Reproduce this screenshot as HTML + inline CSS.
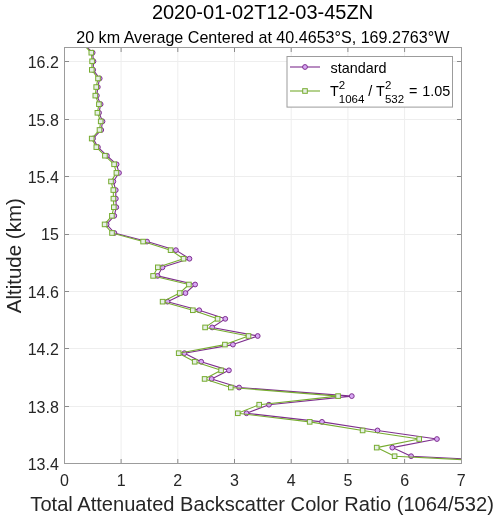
<!DOCTYPE html>
<html><head><meta charset="utf-8"><style>
html,body{margin:0;padding:0;background:#fff;width:500px;height:522px;overflow:hidden;}
svg{display:block;will-change:transform;}
text{white-space:pre;}
</style></head><body>
<svg width="500" height="522" viewBox="0 0 500 522"><defs><clipPath id="c"><rect x="64" y="47" width="398" height="417"/></clipPath></defs><rect x="0" y="0" width="500" height="522" fill="#fff"/><g stroke="#eeeeee" stroke-width="1"><line x1="121.10" y1="47" x2="121.10" y2="463" /><line x1="177.80" y1="47" x2="177.80" y2="463" /><line x1="234.50" y1="47" x2="234.50" y2="463" /><line x1="291.20" y1="47" x2="291.20" y2="463" /><line x1="347.90" y1="47" x2="347.90" y2="463" /><line x1="404.60" y1="47" x2="404.60" y2="463" /><line x1="64" y1="406.50" x2="461" y2="406.50" /><line x1="64" y1="348.50" x2="461" y2="348.50" /><line x1="64" y1="291.50" x2="461" y2="291.50" /><line x1="64" y1="234.50" x2="461" y2="234.50" /><line x1="64" y1="176.50" x2="461" y2="176.50" /><line x1="64" y1="119.50" x2="461" y2="119.50" /><line x1="64" y1="61.50" x2="461" y2="61.50" /></g><g stroke="#8a8a8a" stroke-width="1"><line x1="121.10" y1="463" x2="121.10" y2="459" /><line x1="121.10" y1="48" x2="121.10" y2="52" /><line x1="177.80" y1="463" x2="177.80" y2="459" /><line x1="177.80" y1="48" x2="177.80" y2="52" /><line x1="234.50" y1="463" x2="234.50" y2="459" /><line x1="234.50" y1="48" x2="234.50" y2="52" /><line x1="291.20" y1="463" x2="291.20" y2="459" /><line x1="291.20" y1="48" x2="291.20" y2="52" /><line x1="347.90" y1="463" x2="347.90" y2="459" /><line x1="347.90" y1="48" x2="347.90" y2="52" /><line x1="404.60" y1="463" x2="404.60" y2="459" /><line x1="404.60" y1="48" x2="404.60" y2="52" /><line x1="65" y1="406.50" x2="69" y2="406.50" /><line x1="461" y1="406.50" x2="457" y2="406.50" /><line x1="65" y1="348.50" x2="69" y2="348.50" /><line x1="461" y1="348.50" x2="457" y2="348.50" /><line x1="65" y1="291.50" x2="69" y2="291.50" /><line x1="461" y1="291.50" x2="457" y2="291.50" /><line x1="65" y1="234.50" x2="69" y2="234.50" /><line x1="461" y1="234.50" x2="457" y2="234.50" /><line x1="65" y1="176.50" x2="69" y2="176.50" /><line x1="461" y1="176.50" x2="457" y2="176.50" /><line x1="65" y1="119.50" x2="69" y2="119.50" /><line x1="461" y1="119.50" x2="457" y2="119.50" /><line x1="65" y1="61.50" x2="69" y2="61.50" /><line x1="461" y1="61.50" x2="457" y2="61.50" /></g><g clip-path="url(#c)"><polyline points="83.94,44.12 92.65,52.70 93.49,61.29 93.17,69.87 99.69,78.46 97.80,87.04 96.85,95.62 100.63,104.21 99.06,112.80 102.52,121.38 101.26,129.97 93.07,138.55 97.90,147.13 106.93,155.72 116.59,164.31 119.01,172.89 113.34,181.48 115.75,190.06 115.86,198.65 116.28,207.23 114.28,215.81 106.61,224.40 114.39,232.99 147.04,241.57 175.91,250.16 189.46,258.74 162.48,267.33 157.54,275.91 195.13,284.50 185.47,293.08 167.51,301.67 199.23,310.25 225.27,318.84 212.14,327.42 257.71,336.00 232.93,344.59 184.42,353.18 201.22,361.76 228.94,370.35 211.62,378.93 239.12,387.52 351.79,396.10 268.94,404.69 246.48,413.27 321.97,421.86 377.52,430.44 436.94,439.03 392.32,447.61 411.12,456.20 586.67,464.78" fill="none" stroke="#7E2F8E" stroke-width="1.1" stroke-linejoin="round"/><circle cx="92.65" cy="52.70" r="2.4" fill="#d8a8f5" stroke="#7E2F8E" stroke-width="1"/><circle cx="93.49" cy="61.29" r="2.4" fill="#d8a8f5" stroke="#7E2F8E" stroke-width="1"/><circle cx="93.17" cy="69.87" r="2.4" fill="#d8a8f5" stroke="#7E2F8E" stroke-width="1"/><circle cx="99.69" cy="78.46" r="2.4" fill="#d8a8f5" stroke="#7E2F8E" stroke-width="1"/><circle cx="97.80" cy="87.04" r="2.4" fill="#d8a8f5" stroke="#7E2F8E" stroke-width="1"/><circle cx="96.85" cy="95.62" r="2.4" fill="#d8a8f5" stroke="#7E2F8E" stroke-width="1"/><circle cx="100.63" cy="104.21" r="2.4" fill="#d8a8f5" stroke="#7E2F8E" stroke-width="1"/><circle cx="99.06" cy="112.80" r="2.4" fill="#d8a8f5" stroke="#7E2F8E" stroke-width="1"/><circle cx="102.52" cy="121.38" r="2.4" fill="#d8a8f5" stroke="#7E2F8E" stroke-width="1"/><circle cx="101.26" cy="129.97" r="2.4" fill="#d8a8f5" stroke="#7E2F8E" stroke-width="1"/><circle cx="93.07" cy="138.55" r="2.4" fill="#d8a8f5" stroke="#7E2F8E" stroke-width="1"/><circle cx="97.90" cy="147.13" r="2.4" fill="#d8a8f5" stroke="#7E2F8E" stroke-width="1"/><circle cx="106.93" cy="155.72" r="2.4" fill="#d8a8f5" stroke="#7E2F8E" stroke-width="1"/><circle cx="116.59" cy="164.31" r="2.4" fill="#d8a8f5" stroke="#7E2F8E" stroke-width="1"/><circle cx="119.01" cy="172.89" r="2.4" fill="#d8a8f5" stroke="#7E2F8E" stroke-width="1"/><circle cx="113.34" cy="181.48" r="2.4" fill="#d8a8f5" stroke="#7E2F8E" stroke-width="1"/><circle cx="115.75" cy="190.06" r="2.4" fill="#d8a8f5" stroke="#7E2F8E" stroke-width="1"/><circle cx="115.86" cy="198.65" r="2.4" fill="#d8a8f5" stroke="#7E2F8E" stroke-width="1"/><circle cx="116.28" cy="207.23" r="2.4" fill="#d8a8f5" stroke="#7E2F8E" stroke-width="1"/><circle cx="114.28" cy="215.81" r="2.4" fill="#d8a8f5" stroke="#7E2F8E" stroke-width="1"/><circle cx="106.61" cy="224.40" r="2.4" fill="#d8a8f5" stroke="#7E2F8E" stroke-width="1"/><circle cx="114.39" cy="232.99" r="2.4" fill="#d8a8f5" stroke="#7E2F8E" stroke-width="1"/><circle cx="147.04" cy="241.57" r="2.4" fill="#d8a8f5" stroke="#7E2F8E" stroke-width="1"/><circle cx="175.91" cy="250.16" r="2.4" fill="#d8a8f5" stroke="#7E2F8E" stroke-width="1"/><circle cx="189.46" cy="258.74" r="2.4" fill="#d8a8f5" stroke="#7E2F8E" stroke-width="1"/><circle cx="162.48" cy="267.33" r="2.4" fill="#d8a8f5" stroke="#7E2F8E" stroke-width="1"/><circle cx="157.54" cy="275.91" r="2.4" fill="#d8a8f5" stroke="#7E2F8E" stroke-width="1"/><circle cx="195.13" cy="284.50" r="2.4" fill="#d8a8f5" stroke="#7E2F8E" stroke-width="1"/><circle cx="185.47" cy="293.08" r="2.4" fill="#d8a8f5" stroke="#7E2F8E" stroke-width="1"/><circle cx="167.51" cy="301.67" r="2.4" fill="#d8a8f5" stroke="#7E2F8E" stroke-width="1"/><circle cx="199.23" cy="310.25" r="2.4" fill="#d8a8f5" stroke="#7E2F8E" stroke-width="1"/><circle cx="225.27" cy="318.84" r="2.4" fill="#d8a8f5" stroke="#7E2F8E" stroke-width="1"/><circle cx="212.14" cy="327.42" r="2.4" fill="#d8a8f5" stroke="#7E2F8E" stroke-width="1"/><circle cx="257.71" cy="336.00" r="2.4" fill="#d8a8f5" stroke="#7E2F8E" stroke-width="1"/><circle cx="232.93" cy="344.59" r="2.4" fill="#d8a8f5" stroke="#7E2F8E" stroke-width="1"/><circle cx="184.42" cy="353.18" r="2.4" fill="#d8a8f5" stroke="#7E2F8E" stroke-width="1"/><circle cx="201.22" cy="361.76" r="2.4" fill="#d8a8f5" stroke="#7E2F8E" stroke-width="1"/><circle cx="228.94" cy="370.35" r="2.4" fill="#d8a8f5" stroke="#7E2F8E" stroke-width="1"/><circle cx="211.62" cy="378.93" r="2.4" fill="#d8a8f5" stroke="#7E2F8E" stroke-width="1"/><circle cx="239.12" cy="387.52" r="2.4" fill="#d8a8f5" stroke="#7E2F8E" stroke-width="1"/><circle cx="351.79" cy="396.10" r="2.4" fill="#d8a8f5" stroke="#7E2F8E" stroke-width="1"/><circle cx="268.94" cy="404.69" r="2.4" fill="#d8a8f5" stroke="#7E2F8E" stroke-width="1"/><circle cx="246.48" cy="413.27" r="2.4" fill="#d8a8f5" stroke="#7E2F8E" stroke-width="1"/><circle cx="321.97" cy="421.86" r="2.4" fill="#d8a8f5" stroke="#7E2F8E" stroke-width="1"/><circle cx="377.52" cy="430.44" r="2.4" fill="#d8a8f5" stroke="#7E2F8E" stroke-width="1"/><circle cx="436.94" cy="439.03" r="2.4" fill="#d8a8f5" stroke="#7E2F8E" stroke-width="1"/><circle cx="392.32" cy="447.61" r="2.4" fill="#d8a8f5" stroke="#7E2F8E" stroke-width="1"/><circle cx="411.12" cy="456.20" r="2.4" fill="#d8a8f5" stroke="#7E2F8E" stroke-width="1"/><polyline points="83.00,44.12 91.30,52.70 92.10,61.29 91.80,69.87 98.00,78.46 96.20,87.04 95.30,95.62 98.90,104.21 97.40,112.80 100.70,121.38 99.50,129.97 91.70,138.55 96.30,147.13 104.90,155.72 114.10,164.31 116.40,172.89 111.00,181.48 113.30,190.06 113.40,198.65 113.80,207.23 111.90,215.81 104.60,224.40 112.00,232.99 143.10,241.57 170.60,250.16 183.50,258.74 157.80,267.33 153.10,275.91 188.90,284.50 179.70,293.08 162.60,301.67 192.80,310.25 217.60,318.84 205.10,327.42 248.50,336.00 224.90,344.59 178.70,353.18 194.70,361.76 221.10,370.35 204.60,378.93 230.80,387.52 338.10,396.10 259.20,404.69 237.80,413.27 309.70,421.86 362.60,430.44 419.20,439.03 376.70,447.61 394.60,456.20 561.80,464.78" fill="none" stroke="#77AC30" stroke-width="1.1" stroke-linejoin="round"/><rect x="89.00" y="50.40" width="4.6" height="4.6" fill="#e6efe6" stroke="#77AC30" stroke-width="1"/><rect x="89.80" y="58.99" width="4.6" height="4.6" fill="#e6efe6" stroke="#77AC30" stroke-width="1"/><rect x="89.50" y="67.57" width="4.6" height="4.6" fill="#e6efe6" stroke="#77AC30" stroke-width="1"/><rect x="95.70" y="76.16" width="4.6" height="4.6" fill="#e6efe6" stroke="#77AC30" stroke-width="1"/><rect x="93.90" y="84.74" width="4.6" height="4.6" fill="#e6efe6" stroke="#77AC30" stroke-width="1"/><rect x="93.00" y="93.33" width="4.6" height="4.6" fill="#e6efe6" stroke="#77AC30" stroke-width="1"/><rect x="96.60" y="101.91" width="4.6" height="4.6" fill="#e6efe6" stroke="#77AC30" stroke-width="1"/><rect x="95.10" y="110.50" width="4.6" height="4.6" fill="#e6efe6" stroke="#77AC30" stroke-width="1"/><rect x="98.40" y="119.08" width="4.6" height="4.6" fill="#e6efe6" stroke="#77AC30" stroke-width="1"/><rect x="97.20" y="127.67" width="4.6" height="4.6" fill="#e6efe6" stroke="#77AC30" stroke-width="1"/><rect x="89.40" y="136.25" width="4.6" height="4.6" fill="#e6efe6" stroke="#77AC30" stroke-width="1"/><rect x="94.00" y="144.83" width="4.6" height="4.6" fill="#e6efe6" stroke="#77AC30" stroke-width="1"/><rect x="102.60" y="153.42" width="4.6" height="4.6" fill="#e6efe6" stroke="#77AC30" stroke-width="1"/><rect x="111.80" y="162.00" width="4.6" height="4.6" fill="#e6efe6" stroke="#77AC30" stroke-width="1"/><rect x="114.10" y="170.59" width="4.6" height="4.6" fill="#e6efe6" stroke="#77AC30" stroke-width="1"/><rect x="108.70" y="179.18" width="4.6" height="4.6" fill="#e6efe6" stroke="#77AC30" stroke-width="1"/><rect x="111.00" y="187.76" width="4.6" height="4.6" fill="#e6efe6" stroke="#77AC30" stroke-width="1"/><rect x="111.10" y="196.35" width="4.6" height="4.6" fill="#e6efe6" stroke="#77AC30" stroke-width="1"/><rect x="111.50" y="204.93" width="4.6" height="4.6" fill="#e6efe6" stroke="#77AC30" stroke-width="1"/><rect x="109.60" y="213.51" width="4.6" height="4.6" fill="#e6efe6" stroke="#77AC30" stroke-width="1"/><rect x="102.30" y="222.10" width="4.6" height="4.6" fill="#e6efe6" stroke="#77AC30" stroke-width="1"/><rect x="109.70" y="230.69" width="4.6" height="4.6" fill="#e6efe6" stroke="#77AC30" stroke-width="1"/><rect x="140.80" y="239.27" width="4.6" height="4.6" fill="#e6efe6" stroke="#77AC30" stroke-width="1"/><rect x="168.30" y="247.86" width="4.6" height="4.6" fill="#e6efe6" stroke="#77AC30" stroke-width="1"/><rect x="181.20" y="256.44" width="4.6" height="4.6" fill="#e6efe6" stroke="#77AC30" stroke-width="1"/><rect x="155.50" y="265.03" width="4.6" height="4.6" fill="#e6efe6" stroke="#77AC30" stroke-width="1"/><rect x="150.80" y="273.61" width="4.6" height="4.6" fill="#e6efe6" stroke="#77AC30" stroke-width="1"/><rect x="186.60" y="282.19" width="4.6" height="4.6" fill="#e6efe6" stroke="#77AC30" stroke-width="1"/><rect x="177.40" y="290.78" width="4.6" height="4.6" fill="#e6efe6" stroke="#77AC30" stroke-width="1"/><rect x="160.30" y="299.37" width="4.6" height="4.6" fill="#e6efe6" stroke="#77AC30" stroke-width="1"/><rect x="190.50" y="307.95" width="4.6" height="4.6" fill="#e6efe6" stroke="#77AC30" stroke-width="1"/><rect x="215.30" y="316.54" width="4.6" height="4.6" fill="#e6efe6" stroke="#77AC30" stroke-width="1"/><rect x="202.80" y="325.12" width="4.6" height="4.6" fill="#e6efe6" stroke="#77AC30" stroke-width="1"/><rect x="246.20" y="333.70" width="4.6" height="4.6" fill="#e6efe6" stroke="#77AC30" stroke-width="1"/><rect x="222.60" y="342.29" width="4.6" height="4.6" fill="#e6efe6" stroke="#77AC30" stroke-width="1"/><rect x="176.40" y="350.88" width="4.6" height="4.6" fill="#e6efe6" stroke="#77AC30" stroke-width="1"/><rect x="192.40" y="359.46" width="4.6" height="4.6" fill="#e6efe6" stroke="#77AC30" stroke-width="1"/><rect x="218.80" y="368.05" width="4.6" height="4.6" fill="#e6efe6" stroke="#77AC30" stroke-width="1"/><rect x="202.30" y="376.63" width="4.6" height="4.6" fill="#e6efe6" stroke="#77AC30" stroke-width="1"/><rect x="228.50" y="385.22" width="4.6" height="4.6" fill="#e6efe6" stroke="#77AC30" stroke-width="1"/><rect x="335.80" y="393.80" width="4.6" height="4.6" fill="#e6efe6" stroke="#77AC30" stroke-width="1"/><rect x="256.90" y="402.38" width="4.6" height="4.6" fill="#e6efe6" stroke="#77AC30" stroke-width="1"/><rect x="235.50" y="410.97" width="4.6" height="4.6" fill="#e6efe6" stroke="#77AC30" stroke-width="1"/><rect x="307.40" y="419.56" width="4.6" height="4.6" fill="#e6efe6" stroke="#77AC30" stroke-width="1"/><rect x="360.30" y="428.14" width="4.6" height="4.6" fill="#e6efe6" stroke="#77AC30" stroke-width="1"/><rect x="416.90" y="436.73" width="4.6" height="4.6" fill="#e6efe6" stroke="#77AC30" stroke-width="1"/><rect x="374.40" y="445.31" width="4.6" height="4.6" fill="#e6efe6" stroke="#77AC30" stroke-width="1"/><rect x="392.30" y="453.90" width="4.6" height="4.6" fill="#e6efe6" stroke="#77AC30" stroke-width="1"/></g><rect x="64.5" y="47.5" width="397" height="416" fill="none" stroke="#9c9c9c" stroke-width="1"/><text x="59.95" y="485.60" font-family="'Liberation Sans', sans-serif" font-size="16" fill="#262626">0</text><text x="116.65" y="485.60" font-family="'Liberation Sans', sans-serif" font-size="16" fill="#262626">1</text><text x="173.35" y="485.60" font-family="'Liberation Sans', sans-serif" font-size="16" fill="#262626">2</text><text x="230.05" y="485.60" font-family="'Liberation Sans', sans-serif" font-size="16" fill="#262626">3</text><text x="286.75" y="485.60" font-family="'Liberation Sans', sans-serif" font-size="16" fill="#262626">4</text><text x="343.45" y="485.60" font-family="'Liberation Sans', sans-serif" font-size="16" fill="#262626">5</text><text x="400.15" y="485.60" font-family="'Liberation Sans', sans-serif" font-size="16" fill="#262626">6</text><text x="456.85" y="485.60" font-family="'Liberation Sans', sans-serif" font-size="16" fill="#262626">7</text><text x="27.66" y="470.10" font-family="'Liberation Sans', sans-serif" font-size="16" fill="#262626">13.4</text><text x="27.66" y="412.50" font-family="'Liberation Sans', sans-serif" font-size="16" fill="#262626">13.8</text><text x="27.66" y="354.70" font-family="'Liberation Sans', sans-serif" font-size="16" fill="#262626">14.2</text><text x="27.66" y="297.70" font-family="'Liberation Sans', sans-serif" font-size="16" fill="#262626">14.6</text><text x="41.00" y="240.30" font-family="'Liberation Sans', sans-serif" font-size="16" fill="#262626">15</text><text x="27.66" y="182.70" font-family="'Liberation Sans', sans-serif" font-size="16" fill="#262626">15.4</text><text x="27.66" y="125.50" font-family="'Liberation Sans', sans-serif" font-size="16" fill="#262626">15.8</text><text x="27.66" y="68.10" font-family="'Liberation Sans', sans-serif" font-size="16" fill="#262626">16.2</text><text x="151.88" y="19.40" font-family="'Liberation Sans', sans-serif" font-size="20" fill="#000">2020-01-02T12-03-45ZN</text><text x="76.26" y="42.50" font-family="'Liberation Sans', sans-serif" font-size="16.1" fill="#000">20 km Average Centered at 40.4653°S, 169.2763°W</text><text x="30.36" y="511.00" font-family="'Liberation Sans', sans-serif" font-size="20.1" fill="#262626">Total Attenuated Backscatter Color Ratio (1064/532)</text><text transform="translate(20.50,255.70) rotate(-90)" x="-57.53" y="0" font-family="'Liberation Sans', sans-serif" font-size="20.5" fill="#262626">Altitude (km)</text><rect x="287" y="56.5" width="165.5" height="50.6" fill="#fff" stroke="#9c9c9c" stroke-width="1"/><line x1="290" y1="67" x2="320" y2="67" stroke="#7E2F8E" stroke-width="1.1"/><circle cx="305" cy="67" r="2.4" fill="#d8a8f5" stroke="#7E2F8E" stroke-width="1"/><line x1="290" y1="91" x2="320" y2="91" stroke="#77AC30" stroke-width="1.1"/><rect x="302.7" y="88.7" width="4.6" height="4.6" fill="#e6efe6" stroke="#77AC30" stroke-width="1"/><text x="330.50" y="72.50" font-family="'Liberation Sans', sans-serif" font-size="14.4" fill="#000">standard</text><text x="330.00" y="95.70" font-family="'Liberation Sans', sans-serif" font-size="14.4" fill="#000">T</text><text x="338.80" y="88.80" font-family="'Liberation Sans', sans-serif" font-size="11.5" fill="#000">2</text><text x="338.80" y="102.70" font-family="'Liberation Sans', sans-serif" font-size="11.5" fill="#000">1064</text><text x="364.38" y="95.70" font-family="'Liberation Sans', sans-serif" font-size="14.4" fill="#000"> / T</text><text x="384.92" y="88.80" font-family="'Liberation Sans', sans-serif" font-size="11.5" fill="#000">2</text><text x="384.92" y="102.70" font-family="'Liberation Sans', sans-serif" font-size="11.5" fill="#000">532</text><text x="404.90" y="95.70" font-family="'Liberation Sans', sans-serif" font-size="14.4" fill="#000"> = </text><text x="422.32" y="95.70" font-family="'Liberation Sans', sans-serif" font-size="14.4" fill="#000">1.05</text></svg>
</body></html>
